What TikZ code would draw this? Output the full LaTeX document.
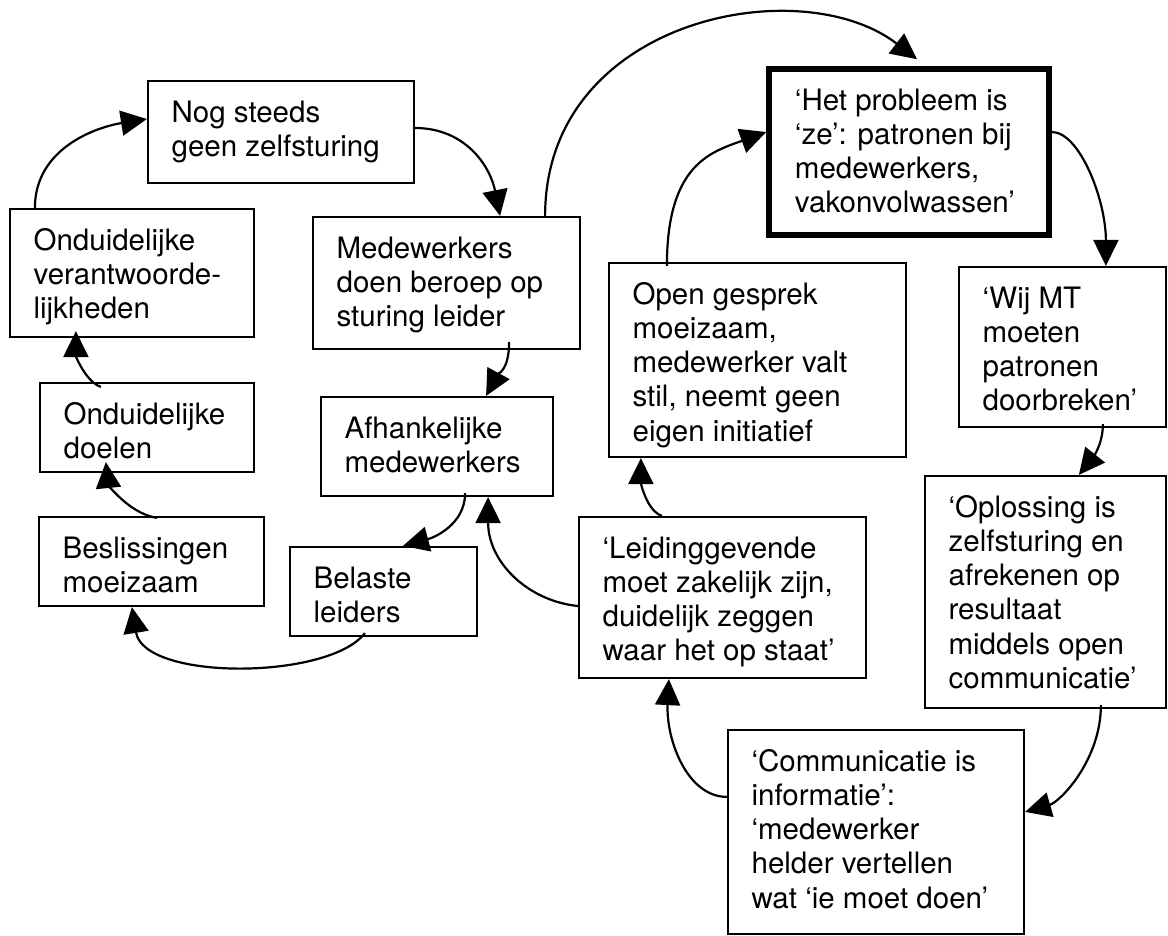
\documentclass[tikz,border=0pt]{standalone}
\usepackage{fontspec}
\setmainfont{TeX Gyre Heros}
\usetikzlibrary{arrows.meta,fit}
% fixed height for the first line of every label
\newcommand{\lnstrut}{\rule{0pt}{24pt}}
\begin{document}
\begin{tikzpicture}[x=1pt,y=-1pt,
  box/.style={draw, rectangle, line width=2.2pt, inner sep=0pt},
  keybox/.style={box, line width=5.5pt},
  lbl/.style={anchor=north west, inner sep=0pt, align=left,
              font={\fontsize{29.5}{34.2}\selectfont}},
  flow/.style={line width=2.2pt, -{Triangle[length=26pt,width=25pt]}}]
\useasboundingbox (0,0) rectangle (1168,936);

% ---------- boxes ----------
\node[box, fit={(148,81) (414,183)}]    (bNog)  {};
\node[box, fit={(10,209) (254,337)}]    (bOnv)  {};
\node[box, fit={(313,217) (580,349)}]   (bMed)  {};
\node[box, fit={(40,383) (254,472)}]    (bOnd)  {};
\node[box, fit={(321,397) (553,496)}]   (bAfh)  {};
\node[box, fit={(39,517) (264,606)}]    (bBes)  {};
\node[box, fit={(290,547) (477,636)}]   (bBel)  {};
\node[keybox, fit={(769,69) (1049,235)}] (bHet) {};
\node[box, fit={(609,263) (906,457)}]   (bOpen) {};
\node[box, fit={(959,267) (1166,427)}]  (bWij)  {};
\node[box, fit={(925,476) (1166,708)}]  (bOpl)  {};
\node[box, fit={(579,517) (866,678)}]   (bLeid) {};
\node[box, fit={(728,730) (1024,934)}]  (bComm) {};

% ---------- labels ----------
\node[lbl] (tNog)  at ([xshift=24.5pt,yshift=-18.1pt]bNog.north west)  {\lnstrut Nog steeds\\geen zelfsturing};
\node[lbl] (tOnv)  at ([xshift=24.5pt,yshift=-18.1pt]bOnv.north west)  {\lnstrut Onduidelijke\\verantwoorde-\\lijkheden};
\node[lbl] (tMed)  at ([xshift=24.5pt,yshift=-18.1pt]bMed.north west)  {\lnstrut Medewerkers\\doen beroep op\\sturing leider};
\node[lbl] (tOnd)  at ([xshift=24.5pt,yshift=-18.1pt]bOnd.north west)  {\lnstrut Onduidelijke\\doelen};
\node[lbl] (tAfh)  at ([xshift=24.5pt,yshift=-18.1pt]bAfh.north west)  {\lnstrut Afhankelijke\\medewerkers};
\node[lbl] (tBes)  at ([xshift=24.5pt,yshift=-18.1pt]bBes.north west)  {\lnstrut Beslissingen\\moeizaam};
\node[lbl] (tBel)  at ([xshift=24.5pt,yshift=-18.1pt]bBel.north west)  {\lnstrut Belaste\\leiders};
\node[lbl] (tHet)  at ([xshift=28.5pt,yshift=-19.8pt]bHet.north west)  {\lnstrut ‘Het probleem is\\‘ze’: patronen bij\\medewerkers,\\vakonvolwassen’};
\node[lbl] (tOpen) at ([xshift=24.5pt,yshift=-18.1pt]bOpen.north west) {\lnstrut Open gesprek\\moeizaam,\\medewerker valt\\stil, neemt geen\\eigen initiatief};
\node[lbl] (tWij)  at ([xshift=24.5pt,yshift=-18.1pt]bWij.north west)  {\lnstrut ‘Wij MT\\moeten\\patronen\\doorbreken’};
\node[lbl] (tOpl)  at ([xshift=24.5pt,yshift=-18.1pt]bOpl.north west)  {\lnstrut ‘Oplossing is\\zelfsturing en\\afrekenen op\\resultaat\\middels open\\communicatie’};
\node[lbl] (tLeid) at ([xshift=24.5pt,yshift=-18.1pt]bLeid.north west) {\lnstrut ‘Leidinggevende\\moet zakelijk zijn,\\duidelijk zeggen\\waar het op staat’};
\node[lbl] (tComm) at ([xshift=24.5pt,yshift=-18.1pt]bComm.north west) {\lnstrut ‘Communicatie is\\informatie’:\\‘medewerker\\helder vertellen\\wat ‘ie moet doen’};

% ---------- left loop ----------
\draw[flow] ([xshift=26pt]bOnv.north west) .. controls +(0,-60) and +(-50,8) .. ([yshift=13pt]bNog.west);
\draw[flow] ([yshift=4pt]bNog.east) .. controls +(50,0) and +(-10,-50) .. ([xshift=-81pt]bMed.north east);
\draw[flow] ([xshift=-72pt,yshift=8pt]bMed.south east) .. controls +(0,28) and +(12,-22) .. ([xshift=-68pt]bAfh.north east);
\draw[flow] ([xshift=-89pt,yshift=4pt]bAfh.south east) .. controls +(0,32) and +(30,-8) .. ([xshift=114pt]bBel.north west);
\draw[flow] ([xshift=76pt,yshift=4pt]bBel.south west) .. controls +(-36,47) and +(12,74) .. ([xshift=94pt]bBes.south west);
\draw[flow] ([xshift=119pt,yshift=-2pt]bBes.north west) .. controls +(-30,-5) and +(2,20) .. ([xshift=67pt,yshift=11pt]bOnd.south west);
\draw[flow] ([xshift=62pt,yshift=-5pt]bOnd.north west) .. controls +(-15,-5) and +(0,25) .. ([xshift=67pt,yshift=7pt]bOnv.south west);

% ---------- bridge to the right loop ----------
\draw[flow] ([xshift=-36pt]bMed.north east) .. controls +(0,-197) and +(-117,-90) .. ([xshift=8pt,yshift=7pt]bHet.north);
\draw[flow] ([yshift=-8.5pt]bLeid.west) .. controls +(-50,-5) and +(0,65) .. ([xshift=-66pt]bAfh.south east);

% ---------- right loop ----------
\draw[flow] ([yshift=20pt]bHet.east) .. controls +(28,0) and +(0,-66) .. ([xshift=148pt]bWij.north west);
\draw[flow] ([xshift=145pt,yshift=4pt]bWij.south west) .. controls +(0,22) and +(12,-15) .. ([xshift=155pt]bOpl.north west);
\draw[flow] ([xshift=177pt,yshift=4pt]bOpl.south west) .. controls +(0,55) and +(35,-10) .. ([yshift=-83pt]bComm.north east);
\draw[flow] ([yshift=-68pt]bComm.north west) .. controls +(-40,0) and +(-3,60) .. ([xshift=91pt]bLeid.south west);
\draw[flow] ([xshift=84pt]bLeid.north west) .. controls +(-15,-5) and +(0,25) .. ([xshift=33pt]bOpen.south west);
\draw[flow] ([xshift=59pt,yshift=-4pt]bOpen.north west) .. controls +(0,-102) and +(-55,20) .. ([yshift=20pt]bHet.west);
\end{tikzpicture}
\end{document}
